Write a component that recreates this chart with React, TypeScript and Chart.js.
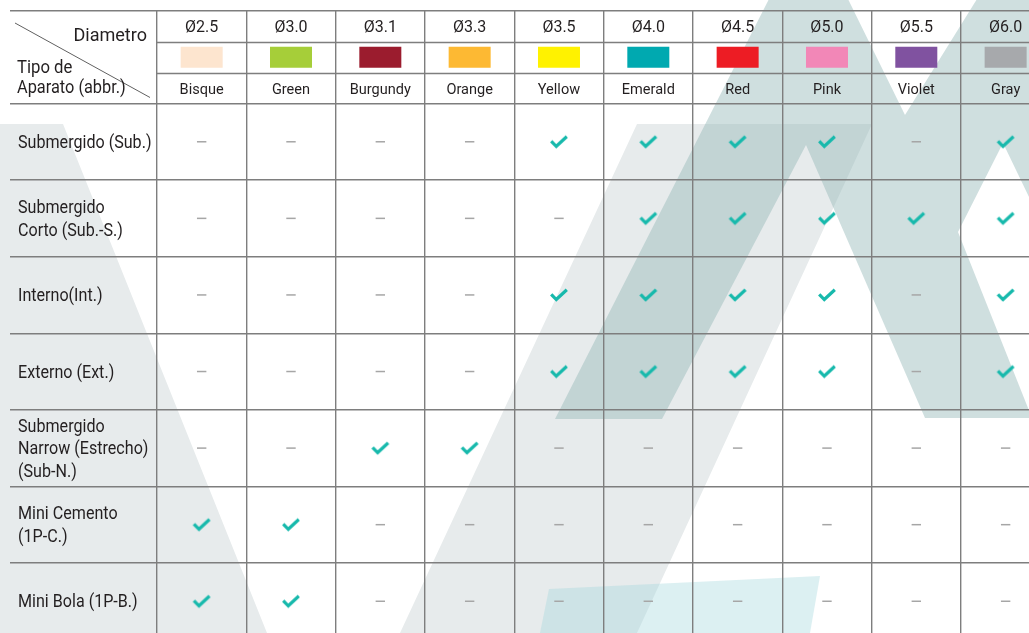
import React, { useEffect, useRef } from "react";
import { Chart, registerables } from "chart.js";

Chart.register(...registerables);

// ---------- data ----------
const diameters = ["Ø2.5", "Ø3.0", "Ø3.1", "Ø3.3", "Ø3.5", "Ø4.0", "Ø4.5", "Ø5.0", "Ø5.5", "Ø6.0"];
const colorNames = ["Bisque", "Green", "Burgundy", "Orange", "Yellow", "Emerald", "Red", "Pink", "Violet", "Gray"];
const swatchColors = ["#fde5cf", "#a6ce39", "#9b1c2e", "#fdb933", "#fff200", "#00a9b0", "#ed1c24", "#f287b7", "#8052a0", "#a7a9ac"];

const rowLabels: string[][] = [
  ["Submergido (Sub.)"],
  ["Submergido", "Corto (Sub.-S.)"],
  ["Interno(Int.)"],
  ["Externo (Ext.)"],
  ["Submergido", "Narrow (Estrecho)", "(Sub-N.)"],
  ["Mini Cemento", "(1P-C.)"],
  ["Mini Bola (1P-B.)"],
];

// 1 = available (check mark), 0 = not available (dash)
const submergido = [0, 0, 0, 0, 1, 1, 1, 1, 0, 1];
const submergidoCorto = [0, 0, 0, 0, 0, 1, 1, 1, 1, 1];
const interno = [0, 0, 0, 0, 1, 1, 1, 1, 0, 1];
const externo = [0, 0, 0, 0, 1, 1, 1, 1, 0, 1];
const submergidoNarrow = [0, 0, 1, 1, 0, 0, 0, 0, 0, 0];
const miniCemento = [1, 1, 0, 0, 0, 0, 0, 0, 0, 0];
const miniBola = [1, 1, 0, 0, 0, 0, 0, 0, 0, 0];
const availability = [submergido, submergidoCorto, interno, externo, submergidoNarrow, miniCemento, miniBola];

// ---------- layout / style ----------
const W = 1029;
const H = 633;
const PAD_LEFT = 10;
const PAD_TOP = 11;
const FIRST_COL_PX = 147;
const COL_PX = 89.33;
const ROW_PX = 76.58;
const HEAD_ROW_PX = 30.83;
const X_MIN = -FIRST_COL_PX / COL_PX;
const X_MAX = (W - PAD_LEFT - FIRST_COL_PX) / COL_PX;
const HEAD = HEAD_ROW_PX / ROW_PX;
const Y_MIN = -3 * HEAD;
const Y_MAX = (H - PAD_TOP - 3 * HEAD_ROW_PX) / ROW_PX;

const LINE = "#7e7e7e";
const TEXT = "#231f20";
const CHECK = "#17b9ac";
const DASH = "#a6a6a6";
const FONT = "Roboto";

function makeCheck(): HTMLCanvasElement {
  const c = document.createElement("canvas");
  c.width = 20;
  c.height = 20;
  const g = c.getContext("2d")!;
  g.strokeStyle = CHECK;
  g.lineWidth = 3.2;
  g.lineCap = "butt";
  g.lineJoin = "miter";
  g.beginPath();
  g.moveTo(2.2, 9.3);
  g.lineTo(7.3, 14.5);
  g.lineTo(17.8, 4.8);
  g.stroke();
  return c;
}

function poly(ctx: CanvasRenderingContext2D, pts: number[][]) {
  ctx.moveTo(pts[0][0], pts[0][1]);
  for (let i = 1; i < pts.length; i++) ctx.lineTo(pts[i][0], pts[i][1]);
  ctx.closePath();
}

const watermarkPlugin = {
  id: "watermark",
  beforeDraw(chart: any) {
    const ctx: CanvasRenderingContext2D = chart.ctx;
    ctx.save();
    ctx.fillStyle = "#e7ebec";
    ctx.beginPath();
    poly(ctx, [[0, 124], [63, 124], [267, 633], [0, 633]]);
    poly(ctx, [[637, 124], [872, 124], [637, 633], [400, 633]]);
    ctx.fill();
    ctx.fillStyle = "rgba(148,184,184,0.45)";
    ctx.beginPath();
    poly(ctx, [[555, 419], [769, -1], [848, -1], [905, 115], [958, 232], [1032, 418], [925, 418], [806, 145], [662, 419]]);
    poly(ctx, [[905, 115], [977, -1], [1040, -1], [1040, 220], [1003, 143], [958, 232]]);
    ctx.fill();
    ctx.fillStyle = "rgba(162,215,220,0.375)";
    ctx.beginPath();
    poly(ctx, [[549, 589], [820, 576], [810, 633], [540, 633]]);
    ctx.fill();
    ctx.restore();
  },
};

function drawText(ctx: CanvasRenderingContext2D, text: string, x: number, y: number, size: number, sx: number, align: CanvasTextAlign) {
  ctx.save();
  ctx.font = `${size}px ${FONT}`;
  ctx.textAlign = align;
  ctx.textBaseline = "alphabetic";
  ctx.translate(x, y);
  ctx.scale(sx, 1);
  ctx.fillText(text, 0, 0);
  ctx.restore();
}

const tablePlugin = {
  id: "tableText",
  afterDraw(chart: any) {
    const ctx: CanvasRenderingContext2D = chart.ctx;
    const x = chart.scales.x;
    const y = chart.scales.y;
    const area = chart.chartArea;
    const x0 = x.getPixelForValue(0);
    const y0 = y.getPixelForValue(0);
    ctx.save();
    // inner header lines
    ctx.strokeStyle = LINE;
    ctx.lineWidth = 1.4;
    for (const k of [1, 2]) {
      const py = Math.round(y.getPixelForValue(Y_MIN + k * HEAD)) + 0.5;
      ctx.beginPath();
      ctx.moveTo(x0, py);
      ctx.lineTo(area.right, py);
      ctx.stroke();
    }
    // diagonal in corner
    ctx.strokeStyle = "#606060";
    ctx.lineWidth = 1;
    ctx.beginPath();
    ctx.moveTo(area.left + 5, area.top + 12);
    ctx.lineTo(x0 - 7, y0 - 6);
    ctx.stroke();

    ctx.fillStyle = TEXT;
    // corner labels
    drawText(ctx, "Diametro", x0 - 10, area.top + 30, 19, 0.95, "right");
    drawText(ctx, "Tipo de", area.left + 7, area.top + 61.5, 19, 0.88, "left");
    drawText(ctx, "Aparato (abbr.)", area.left + 7, area.top + 81.5, 19, 0.86, "left");

    // column headers
    const r0 = y.getPixelForValue(Y_MIN + 0.5 * HEAD);
    const r1 = y.getPixelForValue(Y_MIN + 1.5 * HEAD);
    const r2 = y.getPixelForValue(Y_MIN + 2.5 * HEAD);
    diameters.forEach((d, i) => {
      const cx = x.getPixelForValue(i + 0.5);
      ctx.fillStyle = TEXT;
      drawText(ctx, d, cx, r0 + 5.8, 16, 1, "center");
      ctx.fillStyle = swatchColors[i];
      ctx.fillRect(cx - 21, r1 - 10.5, 42, 21);
      ctx.fillStyle = TEXT;
      drawText(ctx, colorNames[i], cx, r2 + 5.6, 15, 0.97, "center");
    });

    // row labels
    const lh = 22.8;
    rowLabels.forEach((lines, i) => {
      const cy = y.getPixelForValue(i + 0.5);
      lines.forEach((t, k) => {
        const by = cy + (k - (lines.length - 1) / 2) * lh + 6.2;
        ctx.fillStyle = TEXT;
        drawText(ctx, t, area.left + 8, by, 17.5, 0.92, "left");
      });
    });
    ctx.restore();
  },
};

export default function App() {
  const ref = useRef<HTMLCanvasElement | null>(null);
  useEffect(() => {
    document.body.style.margin = "0";
    if (!ref.current) return;
    const checkImg = makeCheck();
    const checks: { x: number; y: number }[] = [];
    const dashes: { x: number; y: number }[] = [];
    availability.forEach((row, r) =>
      row.forEach((v, c) => {
        (v ? checks : dashes).push({ x: c + 0.5, y: r + 0.5 });
      })
    );
    const chart = new Chart(ref.current, {
      type: "scatter",
      data: {
        datasets: [
          { data: checks, pointStyle: checkImg as any, pointRadius: 9, showLine: false },
          {
            data: dashes,
            pointStyle: "line",
            pointRadius: 4.7,
            pointBorderWidth: 1.5,
            pointBorderColor: DASH,
            pointBackgroundColor: DASH,
            showLine: false,
          },
        ],
      },
      options: {
        animation: false,
        responsive: false,
        events: [],
        layout: { autoPadding: false, padding: { left: PAD_LEFT, top: PAD_TOP, right: 0, bottom: 0 } },
        plugins: { legend: { display: false }, tooltip: { enabled: false } },
        scales: {
          x: {
            type: "linear",
            min: X_MIN,
            max: X_MAX,
            afterBuildTicks: (s: any) => {
              s.ticks = diameters.map((_, i) => ({ value: i }));
            },
            ticks: { display: false },
            grid: { color: LINE, lineWidth: 1.4, drawTicks: false },
            border: { display: false },
          },
          y: {
            type: "linear",
            reverse: true,
            min: Y_MIN,
            max: Y_MAX,
            afterBuildTicks: (s: any) => {
              s.ticks = [Y_MIN, ...rowLabels.map((_, i) => i)].map((value) => ({ value }));
            },
            ticks: { display: false },
            grid: { color: LINE, lineWidth: 1.4, drawTicks: false },
            border: { display: false },
          },
        },
      },
      plugins: [watermarkPlugin, tablePlugin],
    });
    return () => chart.destroy();
  }, []);
  return (
    <div style={{ width: W, height: H }}>
      <canvas ref={ref} width={W} height={H} style={{ display: "block" }} />
    </div>
  );
}
